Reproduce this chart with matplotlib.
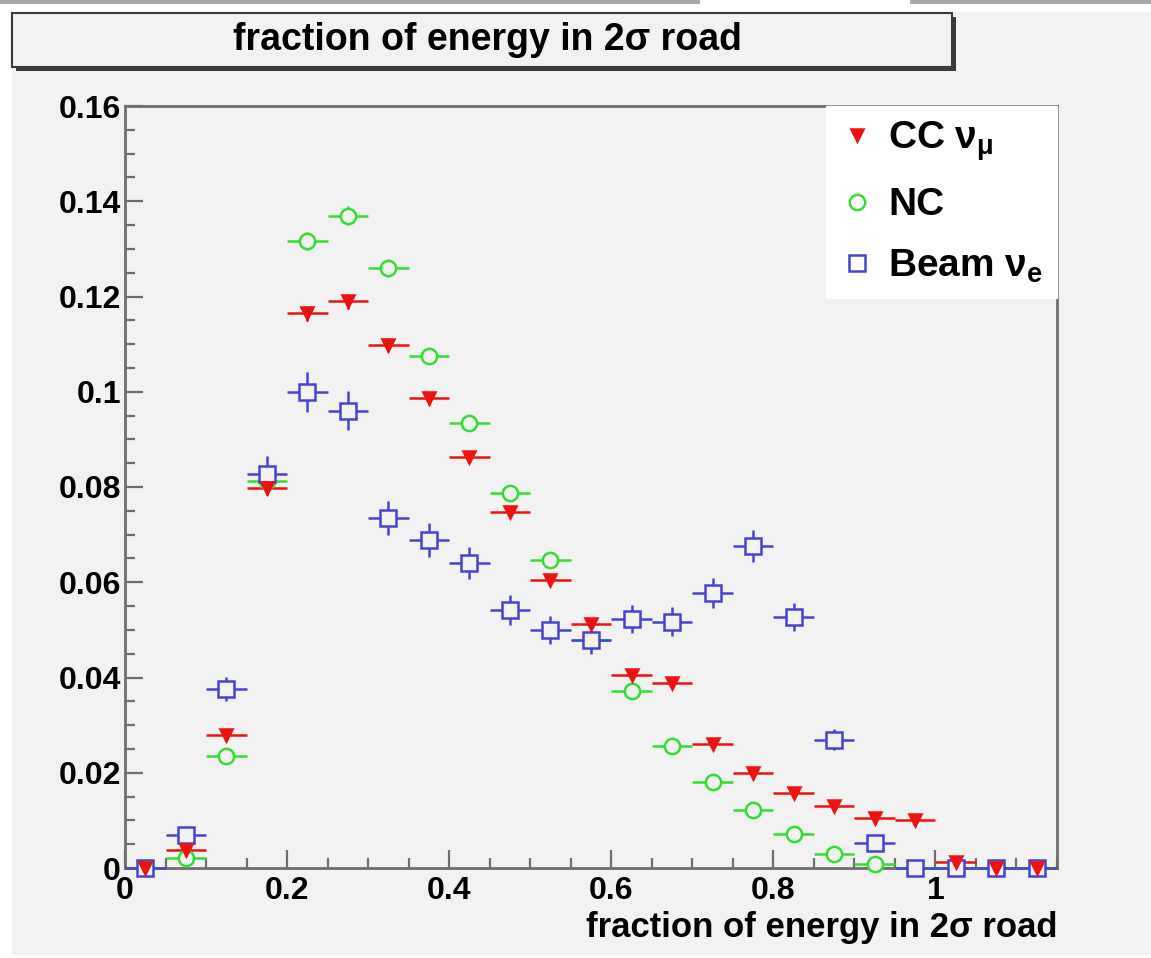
import matplotlib.pyplot as plt
import matplotlib.patches as mpatches
from matplotlib.ticker import MultipleLocator
import numpy as np

# bin centres of the 23 bins of width 0.05
bin_centres = [0.025, 0.075, 0.125, 0.175, 0.225, 0.275, 0.325, 0.375,
               0.425, 0.475, 0.525, 0.575, 0.625, 0.675, 0.725, 0.775,
               0.825, 0.875, 0.925, 0.975, 1.025, 1.075, 1.125]
bin_half = 0.025

cc_numu = [0.0, 0.0038, 0.028, 0.0797, 0.1165, 0.119, 0.1098, 0.0987,
           0.0863, 0.0748, 0.0605, 0.0512, 0.0405, 0.0388, 0.026, 0.020,
           0.0157, 0.013, 0.0105, 0.010, 0.0013, 0.0, 0.0]
cc_err = [0.0, 0.0004, 0.0008, 0.0013, 0.0016, 0.0016, 0.0015, 0.0014,
          0.0013, 0.0012, 0.0011, 0.0010, 0.0009, 0.0009, 0.0007, 0.0006,
          0.0006, 0.0005, 0.0005, 0.0005, 0.0002, 0.0, 0.0]

nc = [0.0, 0.002, 0.0235, 0.0813, 0.1317, 0.137, 0.126, 0.1075,
      0.0934, 0.0787, 0.0647, 0.0479, 0.0372, 0.0256, 0.018, 0.0122,
      0.0071, 0.003, 0.0008, 0.0, 0.0, 0.0, 0.0]
nc_err = [0.0, 0.0003, 0.0009, 0.0016, 0.0019, 0.0020, 0.0019, 0.0017,
          0.0016, 0.0015, 0.0013, 0.0012, 0.0010, 0.0009, 0.0007, 0.0006,
          0.0004, 0.0003, 0.0002, 0.0, 0.0, 0.0, 0.0]

beam_nue = [0.0, 0.007, 0.0376, 0.0827, 0.100, 0.096, 0.0735, 0.0689,
            0.064, 0.0542, 0.050, 0.0479, 0.0523, 0.0517, 0.0577, 0.0676,
            0.0527, 0.0269, 0.0053, 0.0, 0.0, 0.0, 0.0]
nue_err = [0.0, 0.0015, 0.0026, 0.0038, 0.0042, 0.0041, 0.0036, 0.0035,
           0.0034, 0.0031, 0.0030, 0.0029, 0.0030, 0.0030, 0.0032, 0.0034,
           0.0030, 0.0022, 0.0010, 0.0, 0.0, 0.0, 0.0]

title = "fraction of energy in 2\u03c3 road"
canvas_col = "#f2f2f2"
frame_col = "#6e6e6e"

plt.rcParams['font.family'] = ['Liberation Sans', 'DejaVu Sans']
plt.rcParams['font.weight'] = 'bold'
plt.rcParams['mathtext.default'] = 'regular'

fig = plt.figure(figsize=(11.51, 9.58), dpi=100, facecolor="white")

# canvas backdrop and top strip
fig.patches.append(mpatches.Rectangle((12 / 1151, 0.003), 1 - 12 / 1151,
                                      1 - 12 / 958 - 0.003,
                                      transform=fig.transFigure,
                                      facecolor=canvas_col, edgecolor="none",
                                      zorder=-10))
fig.patches.append(mpatches.Rectangle((0, 1 - 4 / 958), 700 / 1151, 4 / 958,
                                      transform=fig.transFigure,
                                      facecolor="#a8a8a8", edgecolor="none",
                                      zorder=-9))
fig.patches.append(mpatches.Rectangle((910 / 1151, 1 - 4 / 958), 241 / 1151,
                                      4 / 958, transform=fig.transFigure,
                                      facecolor="#a8a8a8", edgecolor="none",
                                      zorder=-9))

ax = fig.add_axes([125 / 1151, 90 / 958, 932 / 1151, 762 / 958])
ax.set_facecolor(canvas_col)

x = np.array(bin_centres)
# open markers get the pad colour so the error bars stop at their rim;
# the filled triangles sit on top of everything
series = [
    (cc_numu, cc_err, "v", "#ee1111", "#ee1111", 8.5, "CC $\\nu_{\\mu}$", 6),
    (nc, nc_err, "o", canvas_col, "#33dd33", 11, "NC", 4),
    (beam_nue, nue_err, "s", canvas_col, "#4444cc", 12, "Beam $\\nu_{e}$", 5),
]
handles = []
for vals, errs, mk, fc, ec, ms, lab, zo in series:
    eb = ax.errorbar(x, vals, xerr=bin_half, yerr=errs, fmt="none",
                     ecolor=ec, elinewidth=1.8, capsize=0, zorder=3)
    for coll in eb.lines[2]:
        coll.set_clip_on(False)
    h, = ax.plot(x, vals, linestyle="none", marker=mk, markersize=ms,
                 markerfacecolor=fc, markeredgecolor=ec, markeredgewidth=1.8,
                 zorder=zo, label=lab, clip_on=False)
    handles.append(h)

ax.set_xlim(0, 1.15)
ax.set_ylim(0, 0.16)
ax.xaxis.set_minor_locator(MultipleLocator(0.05))
ax.yaxis.set_minor_locator(MultipleLocator(0.005))
ax.set_xticks([0, 0.2, 0.4, 0.6, 0.8, 1.0])
ax.set_xticklabels(["0", "0.2", "0.4", "0.6", "0.8", "1"])
ax.set_yticks([0, 0.02, 0.04, 0.06, 0.08, 0.1, 0.12, 0.14, 0.16])
ax.set_yticklabels(["0", "0.02", "0.04", "0.06", "0.08", "0.1", "0.12",
                    "0.14", "0.16"])
ax.tick_params(axis="both", which="both", direction="in", top=False,
               right=False, color=frame_col, width=1.6)
ax.tick_params(axis="x", which="major", length=13, labelsize=23, pad=6)
ax.tick_params(axis="x", which="minor", length=7)
ax.tick_params(axis="y", which="major", length=13, labelsize=23, pad=3)
ax.tick_params(axis="y", which="minor", length=7)
for lbl in ax.get_xticklabels() + ax.get_yticklabels():
    lbl.set_fontweight("bold")
for side in ["left", "bottom", "top", "right"]:
    ax.spines[side].set_color(frame_col)
    ax.spines[side].set_linewidth(2.0)

ax.set_xlabel(title, fontsize=25, fontweight="bold", loc="right",
              labelpad=3)

leg = ax.legend(handles=handles, loc="upper right", fontsize=28,
                frameon=True, fancybox=False, handlelength=0.9,
                handletextpad=0.35, labelspacing=0.62, borderpad=0.35,
                borderaxespad=0.0, bbox_to_anchor=(1.0, 1.0))
leg.set_zorder(10)
leg.get_frame().set_facecolor("white")
leg.get_frame().set_edgecolor("white")
leg.get_frame().set_alpha(1.0)
for t in leg.get_texts():
    t.set_fontweight("bold")
for lh in leg.legend_handles:
    if lh.get_markerfacecolor() == canvas_col:
        lh.set_markerfacecolor("white")

# title pave with shadow
fig.patches.append(mpatches.Rectangle((16 / 1151, 1 - 71 / 958),
                                      940 / 1151, 54 / 958,
                                      transform=fig.transFigure,
                                      facecolor="#3a3a3a", edgecolor="none",
                                      zorder=1))
fig.patches.append(mpatches.Rectangle((12 / 1151, 1 - 67 / 958),
                                      940 / 1151, 54 / 958,
                                      transform=fig.transFigure,
                                      facecolor=canvas_col,
                                      edgecolor="#3a3a3a", linewidth=1.5,
                                      zorder=2))
fig.text(487 / 1151, 1 - 40 / 958, title, ha="center", va="center",
         fontsize=27, fontweight="bold", zorder=3)

fig.savefig("out.png", dpi=100, facecolor=fig.get_facecolor())
